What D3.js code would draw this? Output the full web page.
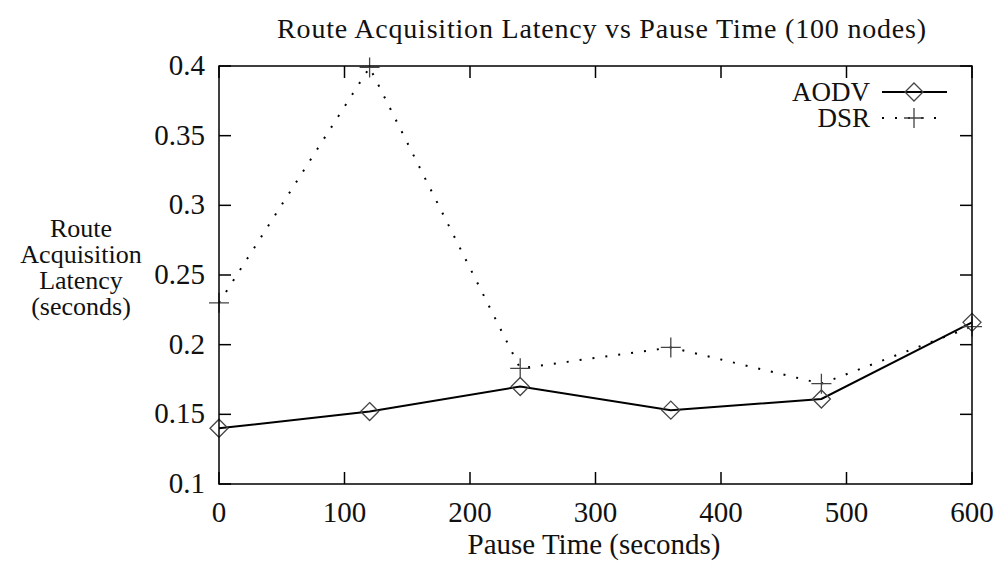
<!DOCTYPE html>
<html>
<head>
<meta charset="utf-8">
<script src="https://cdn.jsdelivr.net/npm/d3@7"></script>
<style>
  body { margin: 0; background: #fff; }
  svg { display: block; font-family: "Liberation Serif", serif; fill: #111; }
</style>
</head>
<body>
<svg width="997" height="563"></svg>
<script>
// data
const pauseTimes = [0, 120, 240, 360, 480, 600];
const aodv = [0.140, 0.152, 0.170, 0.153, 0.161, 0.216];
const dsr = [0.230, 0.399, 0.183, 0.198, 0.172, 0.213];
const xTicks = [0, 100, 200, 300, 400, 500, 600];
const yTicks = [0.1, 0.15, 0.2, 0.25, 0.3, 0.35, 0.4];

const svg = d3.select("svg");
const plotLeft = 219, plotRight = 972, plotTop = 66, plotBottom = 484;

const x = d3.scaleLinear().domain([0, 600]).range([plotLeft, plotRight]);
const y = d3.scaleLinear().domain([0.1, 0.4]).range([plotBottom, plotTop]);

// title
svg.append("text")
  .attr("x", 602).attr("y", 38)
  .attr("text-anchor", "middle")
  .style("font-size", "28px")
  .style("letter-spacing", "0.8px")
  .text("Route Acquisition Latency vs Pause Time (100 nodes)");

// inward ticks on all four sides
const tickLen = 12;
const g = svg.append("g").attr("stroke", "#000").attr("stroke-width", 1.5);
xTicks.forEach(t => {
  g.append("line").attr("x1", x(t)).attr("x2", x(t)).attr("y1", plotBottom).attr("y2", plotBottom - tickLen);
  g.append("line").attr("x1", x(t)).attr("x2", x(t)).attr("y1", plotTop).attr("y2", plotTop + tickLen);
});
yTicks.forEach(t => {
  g.append("line").attr("x1", plotLeft).attr("x2", plotLeft + tickLen).attr("y1", y(t)).attr("y2", y(t));
  g.append("line").attr("x1", plotRight).attr("x2", plotRight - tickLen).attr("y1", y(t)).attr("y2", y(t));
});

// tick labels
svg.selectAll(".xl").data(xTicks).enter().append("text")
  .attr("x", d => x(d)).attr("y", 522)
  .attr("text-anchor", "middle")
  .style("font-size", "29px")
  .text(d => d);

svg.selectAll(".yl").data(yTicks).enter().append("text")
  .attr("x", 205).attr("y", d => y(d) + 9)
  .attr("text-anchor", "end")
  .style("font-size", "29px")
  .text(d => d);

// axis labels
svg.append("text")
  .attr("x", 594).attr("y", 554)
  .attr("text-anchor", "middle")
  .style("font-size", "29px")
  .text("Pause Time (seconds)");

const yLabel = ["Route", "Acquisition", "Latency", "(seconds)"];
svg.selectAll(".ylab").data(yLabel).enter().append("text")
  .attr("x", 81).attr("y", (d, i) => 237 + i * 26)
  .attr("text-anchor", "middle")
  .style("font-size", "26px")
  .text(d => d);

// series
const line = d3.line().x((d, i) => x(pauseTimes[i])).y(d => y(d));

svg.append("path").datum(dsr)
  .attr("d", line)
  .attr("fill", "none")
  .attr("stroke", "#000")
  .attr("stroke-width", 2)
  .attr("stroke-dasharray", "2,11");

svg.append("path").datum(aodv)
  .attr("d", line)
  .attr("fill", "none")
  .attr("stroke", "#000")
  .attr("stroke-width", 2);

const diamond = (cx, cy) => `M${cx},${cy - 9}L${cx + 9},${cy}L${cx},${cy + 9}L${cx - 9},${cy}Z`;
const plus = (cx, cy) => `M${cx - 10},${cy}H${cx + 10}M${cx},${cy - 10}V${cy + 10}`;

svg.selectAll(".pa").data(aodv).enter().append("path")
  .attr("d", (d, i) => diamond(x(pauseTimes[i]), y(d)))
  .attr("fill", "none").attr("stroke", "#444").attr("stroke-width", 1.3);

svg.selectAll(".pd").data(dsr).enter().append("path")
  .attr("d", (d, i) => plus(x(pauseTimes[i]), y(d)))
  .attr("fill", "none").attr("stroke", "#444").attr("stroke-width", 1.3);

// frame
svg.append("rect")
  .attr("x", plotLeft).attr("y", plotTop)
  .attr("width", plotRight - plotLeft).attr("height", plotBottom - plotTop)
  .attr("fill", "none").attr("stroke", "#000").attr("stroke-width", 1.5);

// legend
const legend = [
  { name: "AODV", yy: 92, dash: null, mark: diamond },
  { name: "DSR", yy: 118, dash: "2,11", mark: plus }
];
legend.forEach(l => {
  svg.append("text")
    .attr("x", 870).attr("y", l.yy + 9)
    .attr("text-anchor", "end")
    .style("font-size", "27px")
    .text(l.name);
  svg.append("line")
    .attr("x1", 882).attr("x2", 947).attr("y1", l.yy).attr("y2", l.yy)
    .attr("stroke", "#000").attr("stroke-width", 2)
    .attr("stroke-dasharray", l.dash);
  svg.append("path")
    .attr("d", l.mark(914, l.yy))
    .attr("fill", "none").attr("stroke", "#444").attr("stroke-width", 1.3);
});
</script>
</body>
</html>
